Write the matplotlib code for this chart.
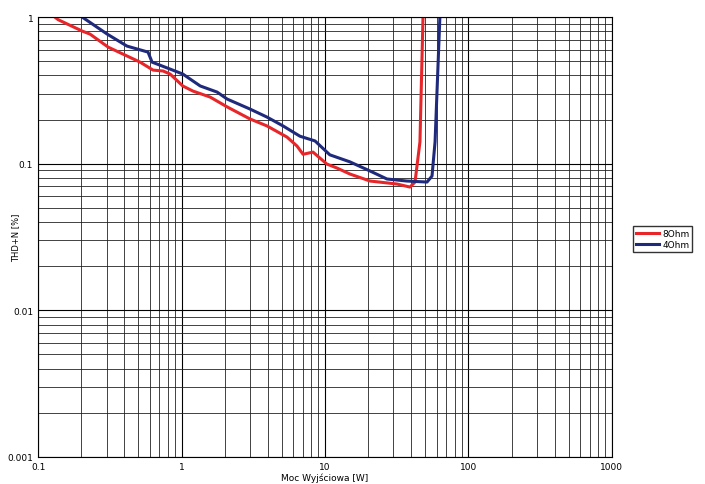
import matplotlib.pyplot as plt
from matplotlib.ticker import FixedLocator, LogLocator, NullFormatter

x_8ohm = [0.131, 0.138, 0.203, 0.230, 0.308, 0.514, 0.633, 0.743, 0.832, 1.02, 1.20, 1.58,
          2.08, 3.00, 3.94, 5.43, 6.38, 7.03, 8.25, 10.3, 12.1, 14.9, 20.6, 31.8, 39.1,
          42.4, 45.9, 48.2]
y_8ohm = [1.0, 0.96, 0.803, 0.766, 0.624, 0.493, 0.435, 0.429, 0.409, 0.339, 0.313, 0.285,
          0.244, 0.202, 0.181, 0.152, 0.132, 0.116, 0.120, 0.0995, 0.0935, 0.0851, 0.0762,
          0.0727, 0.0693, 0.075, 0.141, 1.0]
x_4ohm = [0.203, 0.303, 0.417, 0.584, 0.623, 0.832, 1.02, 1.35, 1.77, 2.08, 3.00, 3.94,
          5.10, 6.69, 8.52, 10.8, 14.9, 20.6, 27.0, 37.2, 51.4, 55.7, 58.5, 63.2]
y_4ohm = [1.0, 0.766, 0.634, 0.577, 0.493, 0.442, 0.409, 0.339, 0.308, 0.276, 0.236, 0.208,
          0.181, 0.154, 0.143, 0.115, 0.103, 0.0892, 0.0787, 0.0762, 0.075, 0.0824, 0.141, 1.0]
x_ticks = [0.1, 1, 10, 100, 1000]
x_labels = ["0.1", "1", "10", "100", "1000"]
y_ticks = [0.001, 0.01, 0.1, 1]
y_labels = ["0.001", "0.01", "0.1", "1"]

fig = plt.figure(figsize=(7.05, 4.85), dpi=100)
ax = fig.add_axes([0.054, 0.0557, 0.814, 0.907])
ax.plot(x_8ohm, y_8ohm, color="#e8262a", lw=2.2, label="8Ohm", solid_joinstyle="round")
ax.plot(x_4ohm, y_4ohm, color="#1f2a7c", lw=2.2, label="4Ohm", solid_joinstyle="round")
ax.set_xscale("log")
ax.set_yscale("log")
ax.set_xlim(0.1, 1000)
ax.set_ylim(0.001, 1)
ax.xaxis.set_major_locator(FixedLocator(x_ticks))
ax.set_xticklabels(x_labels)
ax.yaxis.set_major_locator(FixedLocator(y_ticks))
ax.set_yticklabels(y_labels)
for a in (ax.xaxis, ax.yaxis):
    a.set_minor_locator(LogLocator(base=10, subs=range(2, 10)))
    a.set_minor_formatter(NullFormatter())
ax.grid(True, which="major", color="black", lw=0.8)
ax.grid(True, which="minor", color="#222222", lw=0.6)
ax.tick_params(which="both", length=0, labelsize=6.5)
for s in ax.spines.values():
    s.set_color("black")
    s.set_linewidth(0.8)
ax.set_xlabel("Moc Wyjściowa [W]", fontsize=6.5, labelpad=1)
ax.set_ylabel("THD+N [%]", fontsize=6)
ax.yaxis.set_label_coords(-0.031, 0.5)
fig.legend(loc="center", bbox_to_anchor=(0.94, 0.505), fontsize=6.5, frameon=True,
           fancybox=False, edgecolor="black", handlelength=2.5, borderpad=0.3,
           labelspacing=0.2, handletextpad=0.4)
fig.savefig("out.png", dpi=100)
